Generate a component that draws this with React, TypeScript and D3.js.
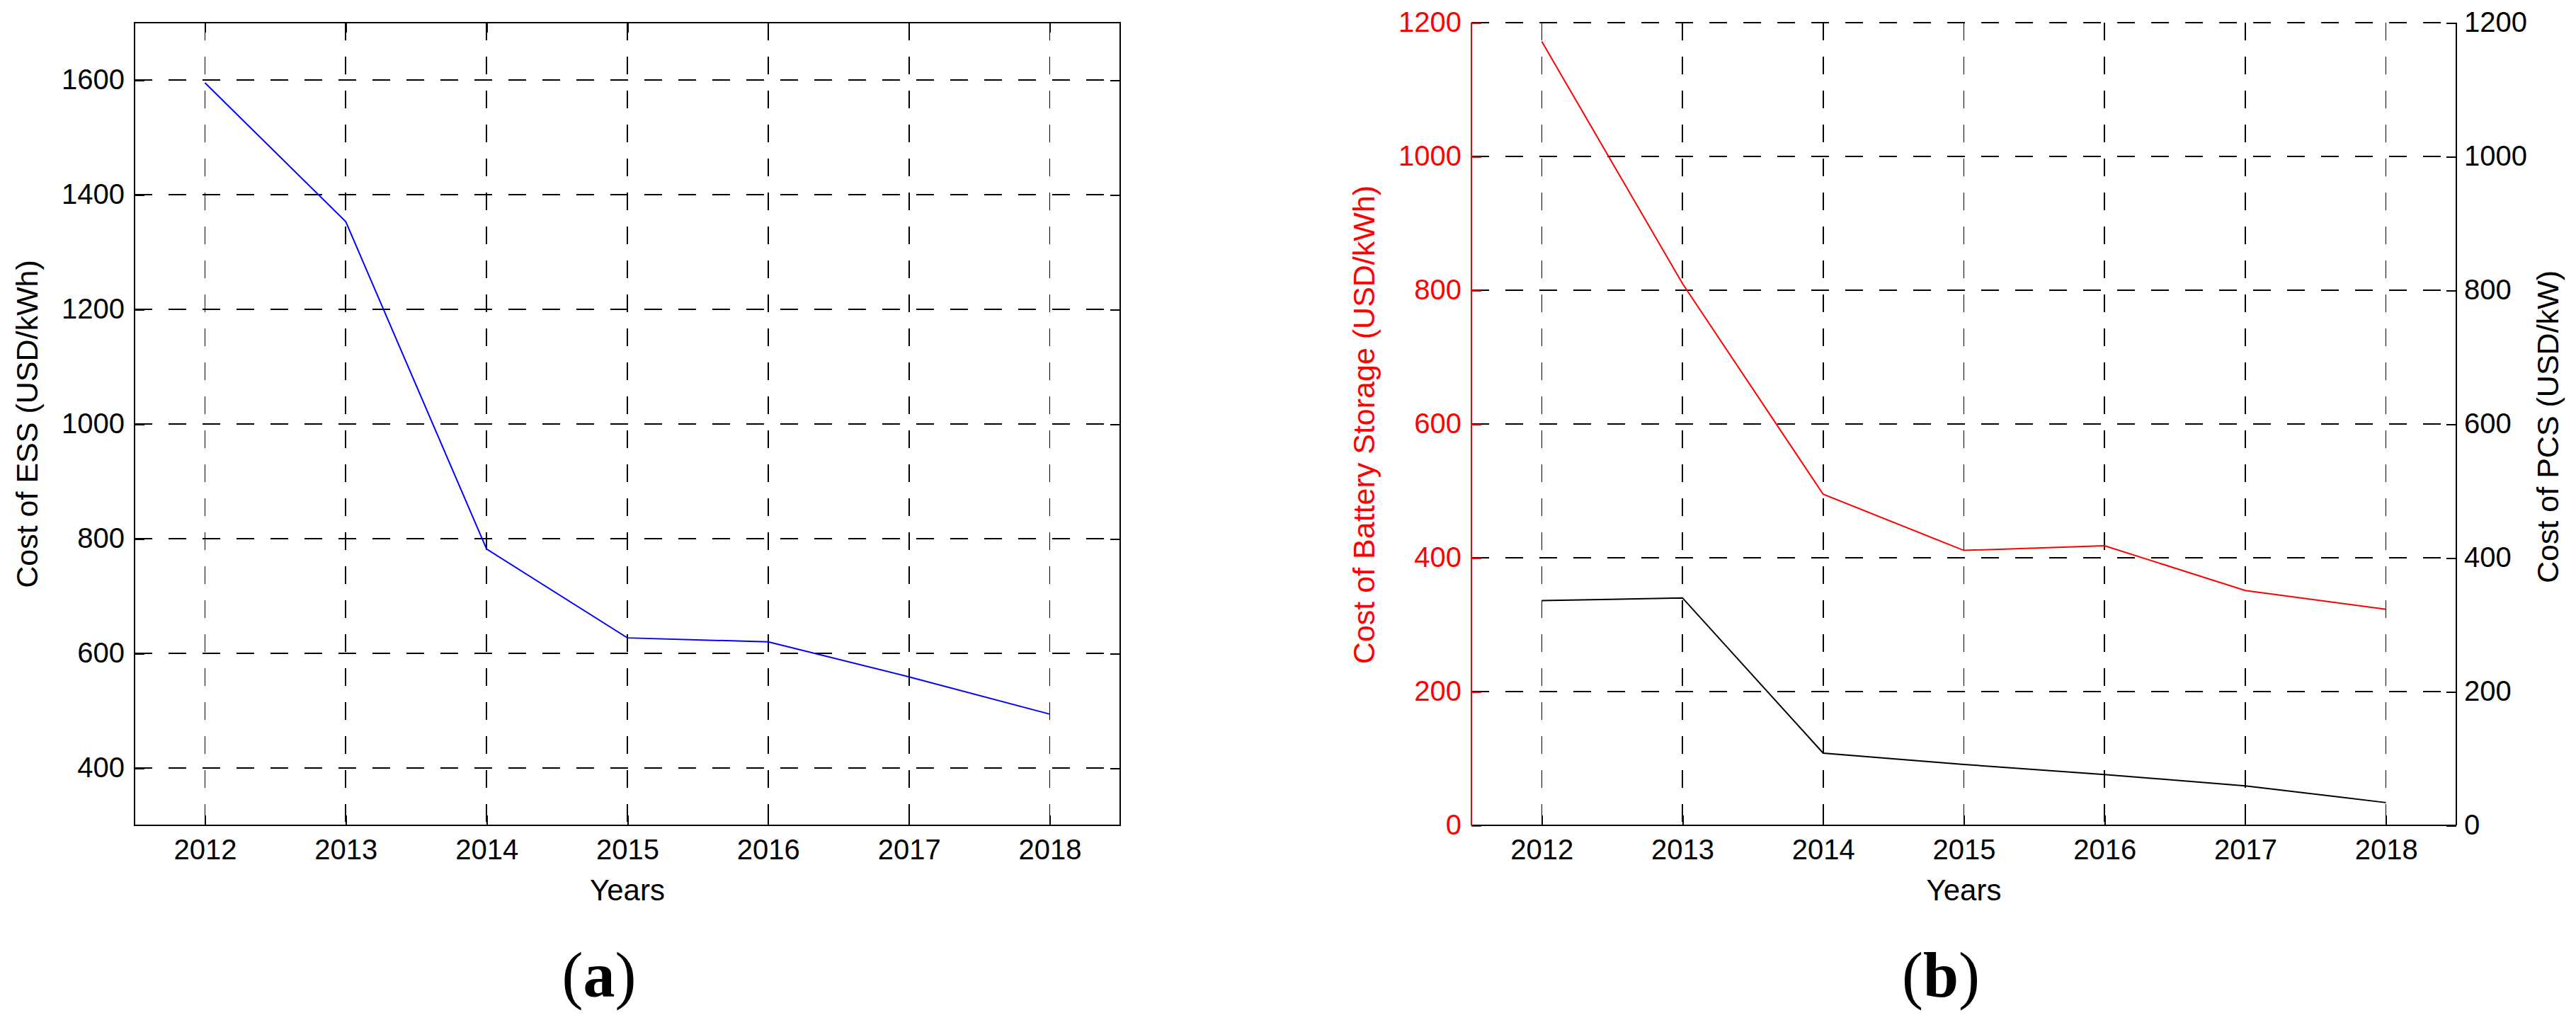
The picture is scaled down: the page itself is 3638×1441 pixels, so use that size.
import React, { useEffect, useRef } from 'react';
import * as d3 from 'd3';

// values
const years = [2012, 2013, 2014, 2015, 2016, 2017, 2018];
const essCost = [1595, 1353, 782, 627, 620, 559, 494];
const batteryCost = [1172, 810, 495, 411, 418, 351, 323];
const pcsCost = [336, 340, 108, 91, 76, 59, 34];

const essTicks = [400, 600, 800, 1000, 1200, 1400, 1600];
const costTicks = [0, 200, 400, 600, 800, 1000, 1200];

const W = 3638;
const H = 1441;
const FONT = "'Liberation Sans', Arial, sans-serif";

const App = () => {
  const svgRef = useRef(null);

  useEffect(() => {
    const svg = d3.select(svgRef.current);
    svg.selectAll('*').remove();

    const top = 32;
    const bottom = 1166;

    const styleAxis = (g, color) => {
      g.select('.domain').remove();
      g.selectAll('.tick line')
        .attr('stroke', color)
        .attr('stroke-width', 2)
        .attr('shape-rendering', 'crispEdges');
      g.selectAll('.tick text')
        .attr('fill', color)
        .style('font-family', FONT)
        .style('font-size', '40px');
    };

    const grid = (g, x, y, yTicks) => {
      g.append('g')
        .selectAll('line')
        .data(years)
        .enter()
        .append('line')
        .attr('x1', (d) => x(d))
        .attr('x2', (d) => x(d))
        .attr('y1', top)
        .attr('y2', bottom)
        .attr('stroke', '#000')
        .attr('stroke-width', 1.6)
        .attr('shape-rendering', 'crispEdges')
        .attr('stroke-dasharray', '25,23');
      g.append('g')
        .selectAll('line')
        .data(yTicks)
        .enter()
        .append('line')
        .attr('x1', x.range()[0])
        .attr('x2', x.range()[1])
        .attr('y1', (d) => y(d))
        .attr('y2', (d) => y(d))
        .attr('stroke', '#000')
        .attr('stroke-width', 1.6)
        .attr('shape-rendering', 'crispEdges')
        .attr('stroke-dasharray', '25,23');
    };

    const xAxes = (g, x, withTop) => {
      g.append('g')
        .attr('transform', `translate(0,${bottom})`)
        .call(d3.axisBottom(x).tickValues(years).tickFormat(d3.format('d')).tickSize(-14).tickSizeOuter(0).tickPadding(20))
        .call((a) => styleAxis(a, '#000'));
      if (withTop) {
        g.append('g')
          .attr('transform', `translate(0,${top})`)
          .call(d3.axisTop(x).tickValues(years).tickFormat(() => '').tickSize(-14).tickSizeOuter(0))
          .call((a) => styleAxis(a, '#000'));
      }
      g.append('text')
        .attr('x', (x.range()[0] + x.range()[1]) / 2)
        .attr('y', 1272)
        .attr('text-anchor', 'middle')
        .style('font-family', FONT)
        .style('font-size', '42px')
        .text('Years');
    };

    const line = (x, y) =>
      d3
        .line()
        .x((d) => x(d[0]))
        .y((d) => y(d[1]));

    // ---- panel (a)
    const xa = d3.scaleLinear().domain([2011.5, 2018.5]).range([190, 1582]);
    const ya = d3.scaleLinear().domain([300, 1700]).range([bottom, top]);
    const ga = svg.append('g');

    grid(ga, xa, ya, essTicks);
    xAxes(ga, xa, true);
    ga.append('g')
      .attr('transform', `translate(${xa.range()[0]},0)`)
      .call(d3.axisLeft(ya).tickValues(essTicks).tickFormat(d3.format('d')).tickSize(-14).tickSizeOuter(0).tickPadding(14))
      .call((a) => styleAxis(a, '#000'));
    ga.append('g')
      .attr('transform', `translate(${xa.range()[1]},0)`)
      .call(d3.axisRight(ya).tickValues(essTicks).tickFormat(() => '').tickSize(-14).tickSizeOuter(0))
      .call((a) => styleAxis(a, '#000'));
    ga.append('rect')
      .attr('x', xa.range()[0])
      .attr('y', top)
      .attr('width', xa.range()[1] - xa.range()[0])
      .attr('height', bottom - top)
      .attr('fill', 'none')
      .attr('stroke', '#000')
      .attr('stroke-width', 2)
      .attr('shape-rendering', 'crispEdges');

    ga.append('path')
      .datum(years.map((d, i) => [d, essCost[i]]))
      .attr('d', line(xa, ya))
      .attr('fill', 'none')
      .attr('stroke', '#0000ff')
      .attr('stroke-width', 2);

    ga.append('text')
      .attr('transform', `translate(53,599) rotate(-90)`)
      .attr('text-anchor', 'middle')
      .style('font-family', FONT)
      .style('font-size', '43px')
      .text('Cost of ESS (USD/kWh)');

    // ---- panel (b)
    const xb = d3.scaleLinear().domain([2011.5, 2018.5]).range([2078, 3469]);
    const yb = d3.scaleLinear().domain([0, 1200]).range([bottom, top]);
    const gb = svg.append('g');

    grid(gb, xb, yb, costTicks);
    xAxes(gb, xb, false);
    gb.append('g')
      .attr('transform', `translate(${xb.range()[0]},0)`)
      .call(d3.axisLeft(yb).tickValues(costTicks).tickFormat(d3.format('d')).tickSize(-14).tickSizeOuter(0).tickPadding(14))
      .call((a) => styleAxis(a, '#ff0000'));
    gb.append('g')
      .attr('transform', `translate(${xb.range()[1]},0)`)
      .call(d3.axisRight(yb).tickValues(costTicks).tickFormat(d3.format('d')).tickSize(-14).tickSizeOuter(0).tickPadding(11))
      .call((a) => styleAxis(a, '#000'));

    gb.append('line')
      .attr('x1', xb.range()[0]).attr('x2', xb.range()[1])
      .attr('y1', bottom).attr('y2', bottom)
      .attr('stroke', '#000').attr('stroke-width', 2)
      .attr('shape-rendering', 'crispEdges');
    gb.append('line')
      .attr('x1', xb.range()[0]).attr('x2', xb.range()[0])
      .attr('y1', top).attr('y2', bottom)
      .attr('stroke', '#ff0000').attr('stroke-width', 1.6)
      .attr('shape-rendering', 'crispEdges');
    gb.append('line')
      .attr('x1', xb.range()[1]).attr('x2', xb.range()[1])
      .attr('y1', top).attr('y2', bottom)
      .attr('stroke', '#000').attr('stroke-width', 2)
      .attr('shape-rendering', 'crispEdges');

    gb.append('path')
      .datum(years.map((d, i) => [d, batteryCost[i]]))
      .attr('d', line(xb, yb))
      .attr('fill', 'none')
      .attr('stroke', '#ff0000')
      .attr('stroke-width', 2);
    gb.append('path')
      .datum(years.map((d, i) => [d, pcsCost[i]]))
      .attr('d', line(xb, yb))
      .attr('fill', 'none')
      .attr('stroke', '#000')
      .attr('stroke-width', 2);

    gb.append('text')
      .attr('transform', `translate(1941,600) rotate(-90)`)
      .attr('text-anchor', 'middle')
      .attr('fill', '#ff0000')
      .style('font-family', FONT)
      .style('font-size', '43px')
      .text('Cost of Battery Storage (USD/kWh)');
    gb.append('text')
      .attr('transform', `translate(3613,603) rotate(-90)`)
      .attr('text-anchor', 'middle')
      .style('font-family', FONT)
      .style('font-size', '43px')
      .text('Cost of PCS (USD/kW)');

    // panel captions
    [
      ['a', 846],
      ['b', 2741]
    ].forEach(([letter, cx]) => {
      const t = svg
        .append('text')
        .attr('x', cx)
        .attr('y', 1408)
        .attr('text-anchor', 'middle')
        .style('font-family', "'Liberation Serif', 'Times New Roman', serif")
        .style('font-size', '90px');
      t.append('tspan').text('(');
      t.append('tspan').attr('font-weight', 'bold').text(letter);
      t.append('tspan').text(')');
    });
  }, []);

  return (
    <svg
      ref={svgRef}
      width={W}
      height={H}
      style={{ position: 'absolute', left: 0, top: 0, background: '#fff' }}
    />
  );
};

export default App;
